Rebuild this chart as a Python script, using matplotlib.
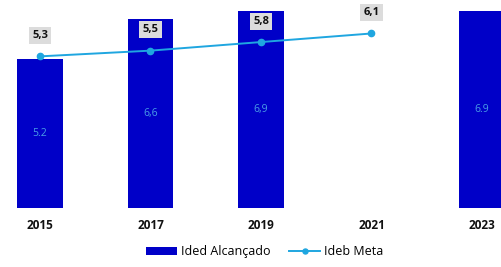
import numpy as np
import matplotlib.pyplot as plt

plt.rcParams['font.family'] = ['Open Sans', 'DejaVu Sans']

# dados
anos = ['2015', '2017', '2019', '2021', '2023']
ided_alcancado = [5.2, 6.6, 6.9, np.nan, 6.9]
ided_rotulos = ['5.2', '6,6', '6,9', '', '6.9']
ideb_meta = [5.3, 5.5, 5.8, 6.1]
meta_rotulos = ['5,3', '5,5', '5,8', '6,1']

x = np.arange(len(anos))

fig = plt.figure(figsize=(5.01, 2.67), dpi=100)
ax = fig.add_axes([0, 0.221, 1, 0.779])

cor_barra = '#0000c8'
cor_linha = '#1fa6e0'

barras = ax.bar(x, np.nan_to_num(ided_alcancado), width=0.41, color=cor_barra,
                label='Ided Alcançado', zorder=2)
for xi, v, r in zip(x, ided_alcancado, ided_rotulos):
    if not np.isnan(v):
        ax.text(xi, v / 2, r, ha='center', va='center', fontsize=7.5,
                color='#4a9ee6', zorder=3)

xm = x[:len(ideb_meta)]
linha, = ax.plot(xm, ideb_meta, '-o', color=cor_linha, lw=1.4, ms=4.5,
                 label='Ideb Meta', zorder=4)
for xi, v, r in zip(xm, ideb_meta, meta_rotulos):
    ax.annotate(r, (xi, v), xytext=(0, 15), textcoords='offset points',
                ha='center', va='center', fontsize=8, fontweight='bold',
                color='#111111',
                bbox=dict(boxstyle='square,pad=0.28', fc='#dcdcdc', ec='none'),
                zorder=5)

ax.set_xlim(-0.362, 4.172)
ax.set_ylim(0, 7.27)
ax.set_xticks(x)
ax.set_xticklabels(anos, fontsize=8.5, fontweight='bold', color='#111111')
ax.set_yticks([])
ax.tick_params(axis='x', length=0, pad=8)
for s in ax.spines.values():
    s.set_visible(False)

fig.legend(handles=[barras, linha], loc='lower center',
           bbox_to_anchor=(0.528, -0.01), ncol=2, frameon=False, fontsize=9,
           handlelength=2.5, handleheight=0.6, columnspacing=1.5,
           handletextpad=0.3, markerscale=0.8)

fig.savefig('out.png', dpi=100)
